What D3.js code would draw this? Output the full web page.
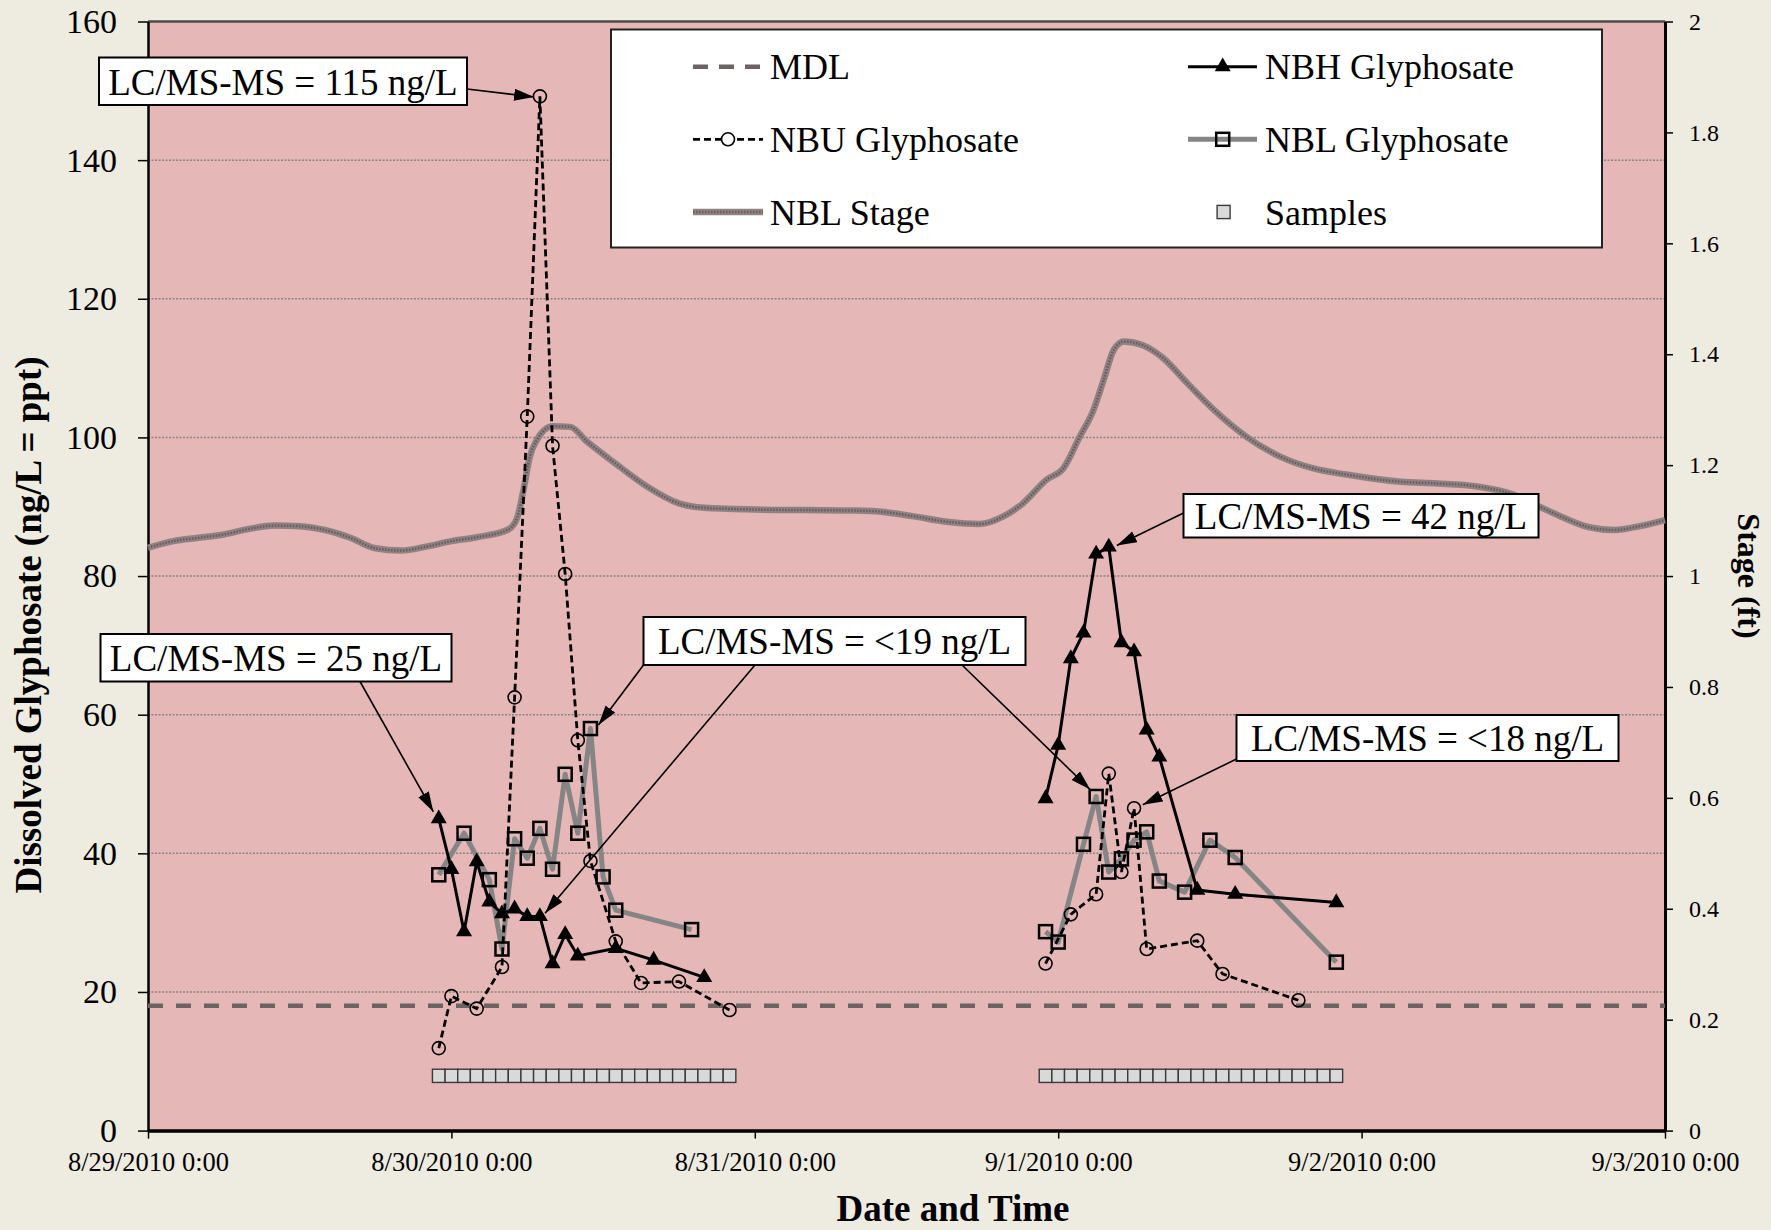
<!DOCTYPE html>
<html><head><meta charset="utf-8">
<script src="https://cdn.jsdelivr.net/npm/d3@7"></script>
<style>
html,body{margin:0;padding:0;background:#eeebe0;}
svg{display:block;}
text{font-family:"Liberation Serif","Times New Roman",serif;fill:#000;}
</style></head><body>
<svg id="chart" width="1771" height="1230"></svg>
<script>
// ---------- DATA ----------
const xTickLabels = ["8/29/2010 0:00","8/30/2010 0:00","8/31/2010 0:00","9/1/2010 0:00","9/2/2010 0:00","9/3/2010 0:00"];
const yTicks = [0,20,40,60,80,100,120,140,160];
const stageTicks = [0,0.2,0.4,0.6,0.8,1,1.2,1.4,1.6,1.8,2];
const stageTickLabels = ["0","0.2","0.4","0.6","0.8","1","1.2","1.4","1.6","1.8","2"];

// hours after 8/29/2010 0:00
const nbuHours1 = [23,24,26,28,29,30,31,32,33,34,35,37,39,42,46];
const nbuVals1  = [11.9,19.4,17.6,23.6,62.5,103.0,149.2,98.8,80.3,56.3,38.9,27.3,21.3,21.5,17.4];
const nbuHours2 = [71,73,75,76,77,78,79,83,85,91];
const nbuVals2  = [24.1,31.2,34.1,51.5,37.3,46.5,26.2,27.4,22.6,18.8];

const nbhHours1 = [23,24,25,26,27,28,29,30,31,32,33,34,37,40,44];
const nbhVals1  = [45.0,37.7,28.7,38.8,33.0,31.3,32.0,30.9,30.9,24.1,28.3,25.2,26.3,24.6,22.1];
const nbhHours2 = [71,72,73,74,75,76,77,78,79,80,83,86,94];
const nbhVals2  = [47.9,55.6,68.1,71.8,83.2,84.2,70.4,69.1,57.8,53.9,34.7,34.1,32.9];

const nblHours1 = [23,25,27,28,29,30,31,32,33,34,35,36,37,43];
const nblVals1  = [36.9,42.9,36.2,26.2,42.1,39.3,43.6,37.7,51.4,42.9,58.0,36.6,31.8,29.0];
const nblHours2 = [71,72,74,75,76,77,78,79,80,82,84,86,94];
const nblVals2  = [28.7,27.2,41.3,48.2,37.3,39.2,41.9,43.1,36.0,34.4,41.9,39.4,24.3];

const sampleHours = [23,24,25,26,27,28,29,30,31,32,33,34,35,36,37,38,39,40,41,42,43,44,45,46,
                     71,72,73,74,75,76,77,78,79,80,81,82,83,84,85,86,87,88,89,90,91,92,93,94];
const sampleLevel = 7.9;
const mdlValue = 18;

const stageHours = [0,2,4,6,8,10,12,14,16,18,20,22,24,26,28.5,29.2,29.7,30.2,30.75,32,33.4,34.7,36.8,39.5,42,44,48,52,56,58,60.5,63.2,65.8,67.7,69.2,71.1,72.4,73.7,74.8,75.6,76.4,77.2,78.7,80.3,82.2,84.3,86.9,89.6,92.2,94.8,99.1,102,105,108,110,112,114,116,118,120];
const stageFt = [1.051,1.063,1.069,1.075,1.085,1.091,1.090,1.083,1.069,1.050,1.046,1.053,1.063,1.070,1.084,1.105,1.155,1.215,1.245,1.270,1.269,1.243,1.206,1.161,1.131,1.123,1.120,1.119,1.118,1.116,1.108,1.098,1.094,1.108,1.131,1.174,1.194,1.251,1.300,1.354,1.408,1.423,1.416,1.393,1.348,1.300,1.251,1.215,1.194,1.183,1.170,1.167,1.162,1.147,1.126,1.105,1.088,1.083,1.090,1.101];

const legendLabels = ["MDL","NBH Glyphosate","NBU Glyphosate","NBL Glyphosate","NBL Stage","Samples"];
const annoTexts = ["LC/MS-MS = 115 ng/L","LC/MS-MS = 25 ng/L","LC/MS-MS = <19 ng/L","LC/MS-MS = 42 ng/L","LC/MS-MS = <18 ng/L"];

// ---------- SETUP ----------
const parse = d3.timeParse("%m/%d/%Y %H:%M");
const tickDates = xTickLabels.map(parse);
const t0 = tickDates[0];
const hd = h => new Date(+t0 + h*3600e3);

const L = 148, R = 1665, T = 21.5, B = 1130.6;
const x = d3.scaleTime().domain([tickDates[0], tickDates[tickDates.length-1]]).range([L, R]);
const y = d3.scaleLinear().domain([0,160]).range([B, T]);
const yS = d3.scaleLinear().domain([0,2]).range([B, T]);

const svg = d3.select("#chart");
svg.append("rect").attr("width",1771).attr("height",1230).attr("fill","#eeebe0");
const defs = svg.append("defs");
defs.append("marker").attr("id","ah").attr("markerUnits","userSpaceOnUse")
  .attr("markerWidth",22).attr("markerHeight",14).attr("refX",20).attr("refY",6)
  .attr("orient","auto").append("path").attr("d","M0,0 L20,6 L0,12 Z").attr("fill","#000");

svg.append("rect").attr("x",L).attr("y",T).attr("width",R-L).attr("height",B-T).attr("fill","#e5b7b7");

// gridlines
svg.append("g").selectAll("line").data(yTicks.filter(v=>v>0 && v<160)).join("line")
  .attr("x1",L).attr("x2",R).attr("y1",d=>y(d)).attr("y2",d=>y(d))
  .attr("stroke","#8e8282").attr("stroke-width",1.5).attr("stroke-dasharray","2,1.5");
svg.append("line").attr("x1",L).attr("x2",R).attr("y1",y(160)).attr("y2",y(160))
  .attr("stroke","#4a4a4a").attr("stroke-width",2.5);

// axes
const fs = (g,size)=>g.selectAll("text").style("font-size",size+"px").style("font-family","'Liberation Serif',serif");
const ax = svg.append("g").attr("transform",`translate(${L},0)`)
  .call(d3.axisLeft(y).tickValues(yTicks).tickSize(10).tickSizeOuter(0).tickPadding(21));
fs(ax,34);
ax.select(".domain").attr("stroke","#000").attr("stroke-width",2.5);
ax.selectAll(".tick line").attr("stroke","#000").attr("stroke-width",1.5);

const axR = svg.append("g").attr("transform",`translate(${R},0)`)
  .call(d3.axisRight(yS).tickValues(stageTicks).tickSize(8).tickSizeOuter(0).tickPadding(16)
  .tickFormat((d,i)=>stageTickLabels[i]));
fs(axR,24);
axR.select(".domain").attr("stroke","#000").attr("stroke-width",3);
axR.selectAll(".tick line").attr("stroke","#000").attr("stroke-width",1.5);

const axB = svg.append("g").attr("transform",`translate(0,${B})`)
  .call(d3.axisBottom(x).tickValues(tickDates).tickSize(8).tickSizeOuter(0).tickPadding(14)
  .tickFormat((d,i)=>xTickLabels[i]));
fs(axB,26.5);
axB.select(".domain").attr("stroke","#000").attr("stroke-width",3.5);
axB.selectAll(".tick line").attr("stroke","#000").attr("stroke-width",1.5);

// titles
svg.append("text").attr("transform","translate(41,625) rotate(-90)").attr("text-anchor","middle")
  .style("font-size","37px").style("font-weight","bold").text("Dissolved Glyphosate (ng/L = ppt)");
svg.append("text").attr("transform","translate(1738,576) rotate(90)").attr("text-anchor","middle")
  .style("font-size","32px").style("font-weight","bold").text("Stage (ft)");
svg.append("text").attr("x",953).attr("y",1221).attr("text-anchor","middle")
  .style("font-size","37px").style("font-weight","bold").text("Date and Time");

// stage line
const stageData = stageHours.map((h,i)=>[hd(h), stageFt[i]]);
const stageLine = d3.line().x(d=>x(d[0])).y(d=>yS(d[1])).curve(d3.curveMonotoneX);
const sg = svg.append("g");
sg.append("path").datum(stageData).attr("d",stageLine).attr("fill","none").attr("stroke","#908283").attr("stroke-width",6.5);
sg.append("path").datum(stageData).attr("d",stageLine).attr("fill","none").attr("stroke","#675b5c").attr("stroke-width",2.5).attr("stroke-dasharray","1.5,1.5");

// MDL
svg.append("line").attr("x1",L).attr("x2",R).attr("y1",y(mdlValue)).attr("y2",y(mdlValue))
  .attr("stroke","#6c6363").attr("stroke-width",4.5).attr("stroke-dasharray","15,13");

const line = d3.line().x(d=>x(d[0])).y(d=>y(d[1]));
const pts = (hs,vs)=>hs.map((h,i)=>[hd(h),vs[i]]);

// NBL
[pts(nblHours1,nblVals1),pts(nblHours2,nblVals2)].forEach(dat=>{
  svg.append("path").datum(dat).attr("d",line).attr("fill","none").attr("stroke","#858585").attr("stroke-width",5).attr("stroke-linejoin","round");
  svg.append("g").selectAll("rect").data(dat).join("rect")
    .attr("x",d=>x(d[0])-6.5).attr("y",d=>y(d[1])-6.5).attr("width",13).attr("height",13)
    .attr("fill","none").attr("stroke","#000").attr("stroke-width",2.5);
});
// NBH
const tri = s => `M0,${-s*0.577} L${s/2},${s*0.289} L${-s/2},${s*0.289} Z`;
[pts(nbhHours1,nbhVals1),pts(nbhHours2,nbhVals2)].forEach(dat=>{
  svg.append("path").datum(dat).attr("d",line).attr("fill","none").attr("stroke","#000").attr("stroke-width",3);
  svg.append("g").selectAll("path").data(dat).join("path")
    .attr("transform",d=>`translate(${x(d[0])},${y(d[1])})`).attr("d",tri(16)).attr("fill","#000");
});
// NBU
[pts(nbuHours1,nbuVals1),pts(nbuHours2,nbuVals2)].forEach(dat=>{
  svg.append("path").datum(dat).attr("d",line).attr("fill","none").attr("stroke","#000").attr("stroke-width",2.8).attr("stroke-dasharray","7,4");
  svg.append("g").selectAll("circle").data(dat).join("circle")
    .attr("cx",d=>x(d[0])).attr("cy",d=>y(d[1])).attr("r",6.5)
    .attr("fill","none").attr("stroke","#000").attr("stroke-width",1.6);
});
// samples
svg.append("g").selectAll("rect").data(sampleHours).join("rect")
  .attr("x",h=>x(hd(h-0.5))).attr("y",y(sampleLevel)-6.6)
  .attr("width",h=>x(hd(h+0.5))-x(hd(h-0.5))).attr("height",13.2)
  .attr("fill","#d9d9d9").attr("stroke","#3a3a3a").attr("stroke-width",1.4);

// annotations
const boxes = [
  {x:99,y:57.5,w:368,h:47.5,tips:[[30.54,149.1]],starts:[[467,89]]},
  {x:100.5,y:634,w:351,h:47.5,tips:[[22.57,46.0]],starts:[[360,681.5]]},
  {x:643.5,y:617,w:382,h:48,tips:[[35.63,58.5],[31.41,31.35],[74.53,49.2]],starts:[[643.5,665],[755,665],[962,665]]},
  {x:1183.5,y:494,w:355,h:43.5,tips:[[76.64,84.4]],starts:[[1183.5,513]]},
  {x:1236.5,y:715,w:382,h:46,tips:[[78.69,47.0]],starts:[[1236.5,759]]}
];
boxes.forEach((b,i)=>{
  b.tips.forEach((t,j)=>{
    svg.append("line").attr("x1",b.starts[j][0]).attr("y1",b.starts[j][1])
      .attr("x2",x(hd(t[0]))).attr("y2",y(t[1])).attr("stroke","#000").attr("stroke-width",1.6)
      .attr("marker-end","url(#ah)");
  });
  svg.append("rect").attr("x",b.x).attr("y",b.y).attr("width",b.w).attr("height",b.h)
    .attr("fill","#fff").attr("stroke","#000").attr("stroke-width",2);
  svg.append("text").attr("x",b.x+b.w/2).attr("y",b.y+b.h/2).attr("dy","0.36em").attr("text-anchor","middle")
    .style("font-size","37px").text(annoTexts[i]);
});

// legend
const lg = svg.append("g");
lg.append("rect").attr("x",611).attr("y",29.5).attr("width",991).attr("height",218)
  .attr("fill","#fff").attr("stroke","#222").attr("stroke-width",2);
const rows = [66.7,139.3,212];
const c1 = [693,763], c2 = [1188,1257];
// MDL
lg.append("line").attr("x1",c1[0]).attr("x2",c1[1]).attr("y1",rows[0]).attr("y2",rows[0])
  .attr("stroke","#6c6363").attr("stroke-width",4.5).attr("stroke-dasharray","15,11");
// NBU
lg.append("line").attr("x1",c1[0]).attr("x2",c1[1]).attr("y1",rows[1]).attr("y2",rows[1])
  .attr("stroke","#000").attr("stroke-width",2.8).attr("stroke-dasharray","7,4");
lg.append("circle").attr("cx",728).attr("cy",rows[1]).attr("r",6.5).attr("fill","#fff").attr("stroke","#000").attr("stroke-width",1.6);
// Stage
lg.append("line").attr("x1",c1[0]).attr("x2",c1[1]).attr("y1",rows[2]).attr("y2",rows[2])
  .attr("stroke","#908283").attr("stroke-width",6.5);
lg.append("line").attr("x1",c1[0]).attr("x2",c1[1]).attr("y1",rows[2]).attr("y2",rows[2])
  .attr("stroke","#675b5c").attr("stroke-width",2.5).attr("stroke-dasharray","1.5,1.5");
// NBH
lg.append("line").attr("x1",c2[0]).attr("x2",c2[1]).attr("y1",rows[0]).attr("y2",rows[0])
  .attr("stroke","#000").attr("stroke-width",3);
lg.append("path").attr("transform",`translate(1222.7,${rows[0]})`).attr("d",tri(16)).attr("fill","#000");
// NBL
lg.append("line").attr("x1",c2[0]).attr("x2",c2[1]).attr("y1",rows[1]).attr("y2",rows[1])
  .attr("stroke","#858585").attr("stroke-width",5);
lg.append("rect").attr("x",1222.7-6.5).attr("y",rows[1]-6.5).attr("width",13).attr("height",13)
  .attr("fill","none").attr("stroke","#000").attr("stroke-width",2.5);
// Samples
lg.append("rect").attr("x",1223.6-6.5).attr("y",rows[2]-6.6).attr("width",13).attr("height",13.2)
  .attr("fill","#d9d9d9").attr("stroke","#3a3a3a").attr("stroke-width",1.4);
const lx = [770,1265,770,1265,770,1265];
legendLabels.forEach((t,i)=>{
  lg.append("text").attr("x",lx[i]).attr("y",rows[Math.floor(i/2)]).attr("dy","0.35em")
    .style("font-size","36px").text(t);
});
</script>
</body></html>
